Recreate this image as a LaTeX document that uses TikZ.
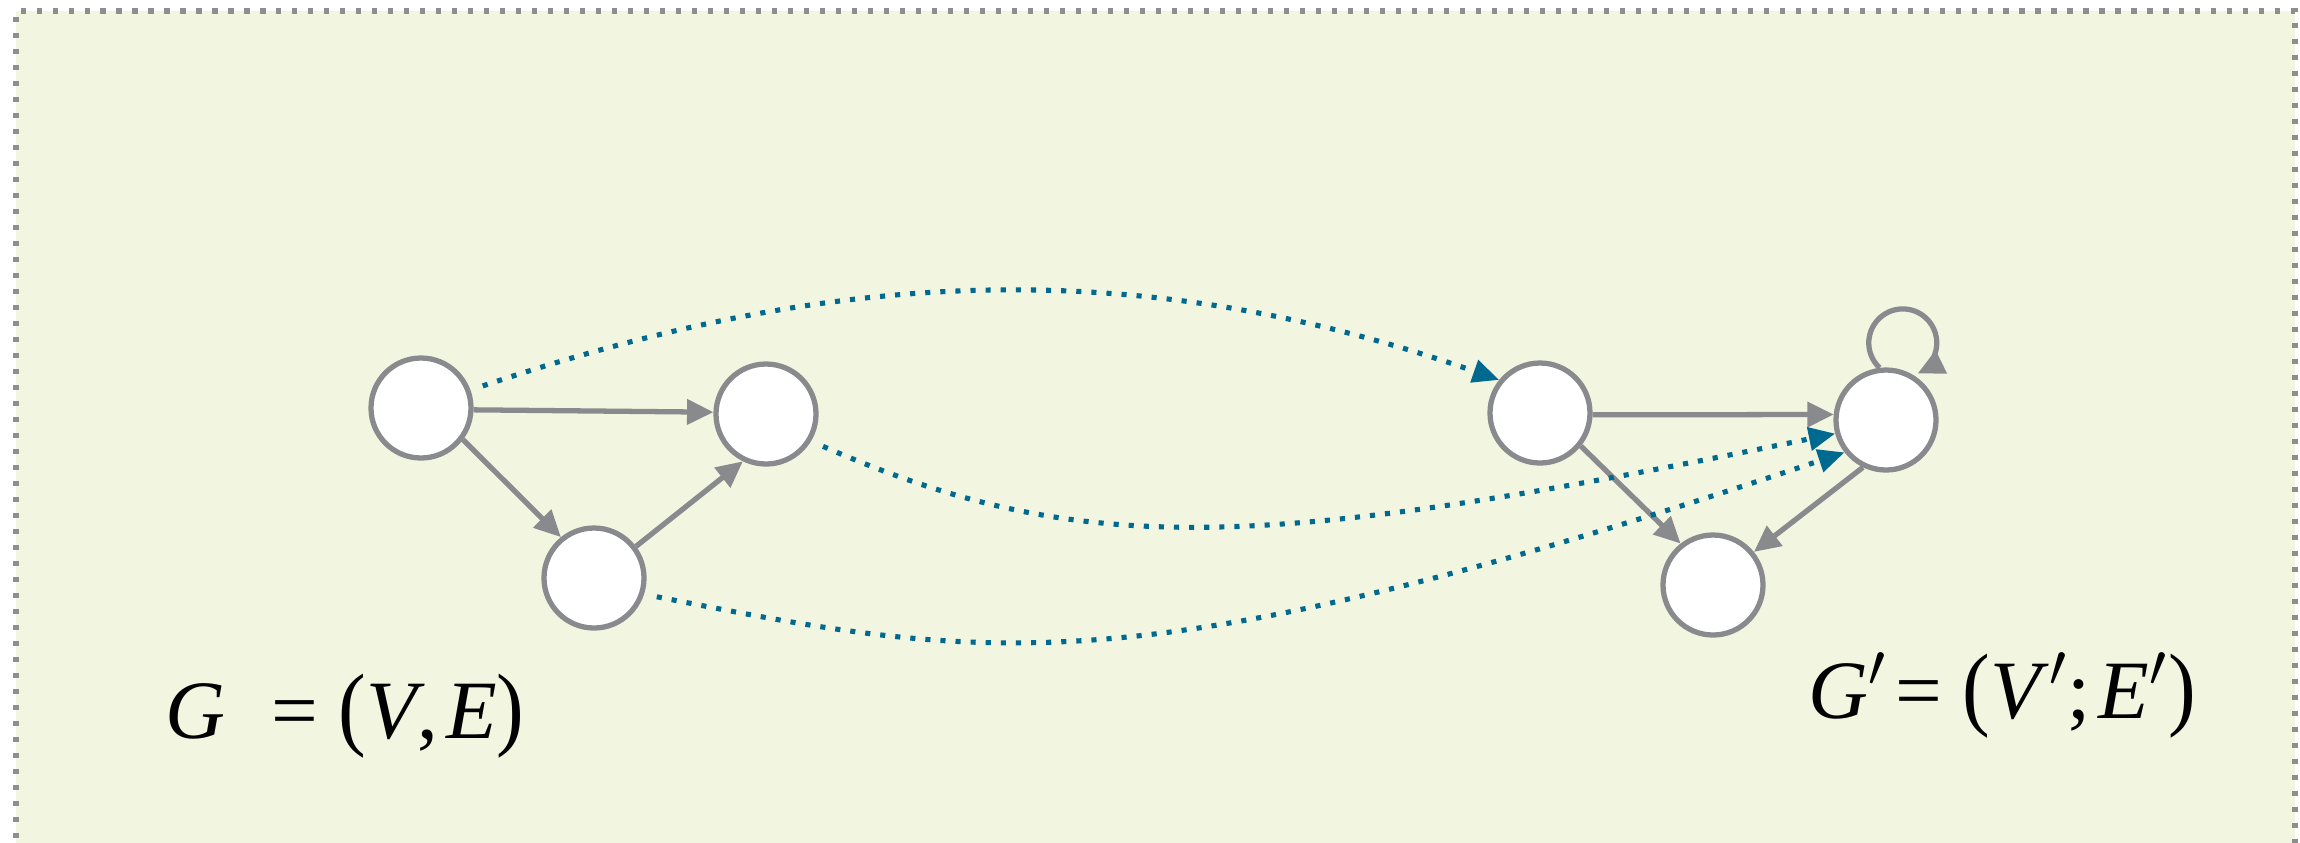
\documentclass[tikz,border=0pt]{standalone}
\usepackage{fontspec}
\setmainfont{Liberation Serif}
\usetikzlibrary{arrows.meta}
\definecolor{bgc}{HTML}{F2F5E0}
\definecolor{edgegrey}{HTML}{898A8E}
\definecolor{mapteal}{HTML}{00698F}
\definecolor{framegrey}{HTML}{8E8E8E}
\newcommand{\tallparen}[1]{\scalebox{1}[1.12]{#1}}
\begin{document}
\begin{tikzpicture}[
  vtx/.style={circle, draw=edgegrey, fill=white, line width=1.5pt, minimum size=1.0cm, inner sep=0pt},
  gedge/.style={draw=edgegrey, line width=1.5pt, -{Triangle[length=7.5pt,width=7pt]}},
  mapedge/.style={draw=mapteal, line width=1.45pt, dash pattern=on 1.45pt off 2.85pt, -{Triangle[length=7.5pt,width=6.5pt]}, shorten <=0.13cm},
  lbl/.style={inner sep=0pt, font=\fontsize{23.6}{28}\selectfont, anchor=base west},
]
\useasboundingbox (0,0) rectangle (23,-8.42);
% background panel with dotted frame
\fill[bgc] (0.16,-0.11) rectangle (22.95,-8.7);
\draw[framegrey, line width=1.45pt, dash pattern=on 1.45pt off 3.1pt] (0.16,-8.7) -- (0.16,-0.11) -- (22.95,-0.11) -- (22.95,-8.7);

% graph G
\node[vtx] (A) at (4.21,-4.08) {};
\node[vtx] (B) at (7.66,-4.14) {};
\node[vtx] (C) at (5.94,-5.78) {};
% graph G'
\node[vtx] (D) at (15.40,-4.13) {};
\node[vtx] (E) at (18.86,-4.20) {};
\node[vtx] (F) at (17.13,-5.85) {};

\draw[gedge] (A.-2) -- (B.178);
\draw[gedge] (A.-37) -- (C.129);
\draw[gedge] (C.37) -- (B.244);
\draw[gedge] (D.-2) -- (E.174);
\draw[gedge] (D.-39) -- (F.128);
\draw[gedge] (E.244) -- (F.39);
\draw[gedge] (E.97) arc[start angle=227, end angle=-64, radius=0.34];

% mapping
\draw[mapedge] (A.20) .. controls +(3.5,1.17) and +(-3.75,1.31) .. (D.141);
\draw[mapedge] (B.-31) .. controls +(2.75,-1.2) and +(-5.68,-1.16) .. (E.195);
\draw[mapedge] (C.-18) .. controls +(3.43,-0.67) and +(-7.11,-2.38) .. (E.218);

% labels
\node[lbl] (LG) at (1.65,-7.38) {\textit{G}\hspace{0.55em}= \tallparen{(}\textit{V},\hspace{0.1em}\textit{E}\tallparen{)}};
\node[lbl] (LH) at (18.08,-7.18) {\textit{G}$'$\hspace{0.1em}= \tallparen{(}\textit{V}$'$;\hspace{0.1em}\textit{E}$'$\tallparen{)}};
\end{tikzpicture}
\end{document}
